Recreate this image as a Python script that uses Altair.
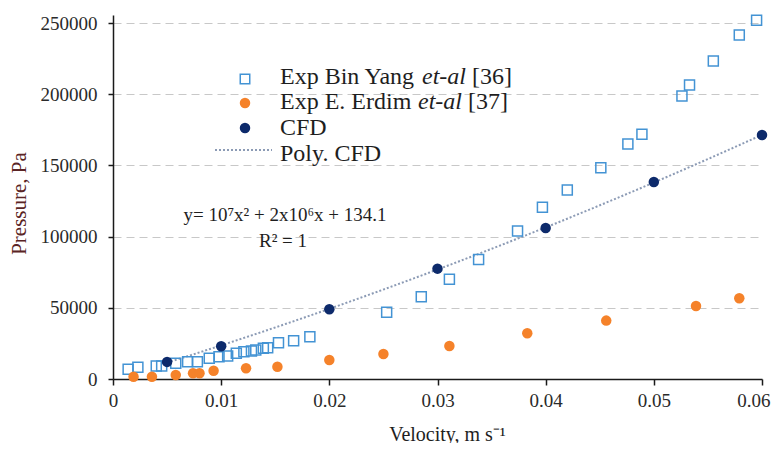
import altair as alt
import pandas as pd

# ---------------- data ----------------
yang_v = [0.0014, 0.0023, 0.0040, 0.0045, 0.0058, 0.0069, 0.0078, 0.0089, 0.0098,
          0.0106, 0.0114, 0.0121, 0.0128, 0.0132, 0.0139, 0.0143, 0.0153, 0.0167,
          0.0182, 0.0253, 0.0285, 0.0311, 0.0338, 0.0374, 0.0397, 0.0420, 0.0451,
          0.0476, 0.0489, 0.0526, 0.0533, 0.0555, 0.0579, 0.0595]
yang_p = [6800, 8200, 9100, 9100, 11000, 12200, 12200, 14500, 15700,
          16200, 18000, 19200, 19700, 20400, 21600, 22000, 25500, 26900,
          29700, 46800, 57800, 70000, 84000, 103900, 120600, 132700, 148400,
          165000, 171800, 198700, 206500, 223300, 241600, 252000]

erdim_v = [0.0019, 0.0036, 0.0058, 0.0074, 0.0080, 0.0093, 0.0123, 0.0152, 0.0200,
           0.0250, 0.0311, 0.0383, 0.0456, 0.0539, 0.0579]
erdim_p = [1600, 1600, 2800, 4000, 4000, 5800, 7500, 8600, 13300,
           17600, 23200, 32100, 41000, 51300, 56700]

cfd_v = [0.005, 0.01, 0.02, 0.03, 0.04, 0.05, 0.06]
cfd_p = [12000, 23000, 49000, 77500, 106000, 138300, 171300]

x_ticks = [0, 0.01, 0.02, 0.03, 0.04, 0.05, 0.06]
y_ticks = [0, 50000, 100000, 150000, 200000, 250000]

legend_labels = ["Exp Bin Yang", "Exp E. Erdim", "CFD", "Poly. CFD"]
legend_italic = "et-al"
legend_refs = ["[36]", "[37]"]
equation = "y= 10\u2077x\u00b2 + 2x10\u2076x + 134.1"
r2_text = "R\u00b2 = 1"
x_title = "Velocity,  m s\u207b\u00b9"
y_title = "Pressure, Pa"

# ---------------- styling ----------------
SERIF = "Liberation Serif"
W, H = 649, 364
BLUE = "#4393d4"
ORANGE = "#f5822a"
NAVY = "#0d2a6b"
TREND = "#8c9bb5"
TXT = "#1e1e1e"

yang = pd.DataFrame({"v": yang_v, "p": yang_p})
erdim = pd.DataFrame({"v": erdim_v, "p": erdim_p})
cfd = pd.DataFrame({"v": cfd_v, "p": cfd_p})
one = pd.DataFrame({"k": [0]})

xs = alt.Scale(domain=[0, 0.06], nice=False, zero=True)
ys = alt.Scale(domain=[0, 255618], nice=False)

last = "datum.value >= 0.059"
x_axis = alt.Axis(values=x_ticks, format=".2~f", title=x_title, grid=False,
                  tickSize=6, labelPadding=6, titleX=334, titleY=55,
                  labelAlign={"condition": {"test": last, "value": "right"}, "value": "center"},
                  labelOffset={"condition": {"test": last, "value": 8}, "value": 0},
                  titleAlign="center", titleBaseline="middle",
                  titleFont=SERIF, titleFontSize=20, titleFontWeight="normal",
                  titleColor=TXT)
y_axis = alt.Axis(values=y_ticks, format="d", title=y_title, grid=True,
                  gridDash=[8, 5], gridColor="#c8c8c8", gridWidth=1,
                  tickSize=5, labelPadding=11, titleX=-94, titleY=188,
                  titleAlign="center", titleBaseline="middle", titleAngle=-90,
                  titleFont=SERIF, titleFontSize=21, titleFontWeight="normal",
                  titleColor="#5a2424")

X = alt.X("v:Q", scale=xs, axis=x_axis)
Y = alt.Y("p:Q", scale=ys, axis=y_axis)

trend = alt.Chart(cfd).transform_regression(
    "v", "p", method="poly", order=2
).mark_line(strokeDash=[2, 2], color=TREND, strokeWidth=2).encode(x=X, y=Y)

sq = alt.Chart(yang).mark_point(shape="square", filled=False, size=100,
                                 strokeWidth=1.5, color=BLUE, opacity=1).encode(x=X, y=Y)

orc = alt.Chart(erdim).mark_circle(size=110, color=ORANGE, opacity=1).encode(x=X, y=Y)

nav = alt.Chart(cfd).mark_circle(size=110, color=NAVY, opacity=1).encode(x=X, y=Y)


def txt(s, x, y, size=24, style="normal", align="left"):
    return alt.Chart(one).mark_text(align=align, baseline="middle", font=SERIF,
                                    fontSize=size, fontStyle=style, color=TXT).encode(
        x=alt.value(x), y=alt.value(y), text=alt.value(s))


# legend (inside the plot)
leg = [
    alt.Chart(one).mark_point(shape="square", filled=False, size=90, strokeWidth=1.5,
                              color=BLUE, opacity=1).encode(x=alt.value(132), y=alt.value(64)),
    alt.Chart(one).mark_circle(size=110, color=ORANGE, opacity=1).encode(
        x=alt.value(132), y=alt.value(88)),
    alt.Chart(one).mark_circle(size=110, color=NAVY, opacity=1).encode(
        x=alt.value(132), y=alt.value(113)),
    alt.Chart(one).mark_rule(strokeDash=[2, 2], color=TREND, strokeWidth=2).encode(
        x=alt.value(102), x2=alt.value(159), y=alt.value(135)),
    txt(legend_labels[0], 167, 62),
    txt(legend_italic, 309, 62, style="italic"),
    txt(legend_refs[0], 359, 62),
    txt(legend_labels[1], 167, 87),
    txt(legend_italic, 305, 87, style="italic"),
    txt(legend_refs[1], 355, 87),
    txt(legend_labels[2], 167, 113),
    txt(legend_labels[3], 167, 139),
    txt(equation, 172, 200, size=19, align="center"),
    txt(r2_text, 170, 226, size=19, align="center"),
]

chart = alt.layer(trend, sq, orc, nav, *leg).properties(
    width=W, height=H,
    autosize=alt.AutoSizeParams(type="none"),
    padding={"left": 105, "top": 7, "right": 9, "bottom": 64},
    background="white",
).configure_view(stroke=None).configure_axis(
    labelFont=SERIF, labelFontSize=19, labelColor="#2a2a2a",
    domainColor="#1a1a1a", domainWidth=1.5, tickColor="#1a1a1a", tickWidth=1.5,
)

chart.save("out.html", embed_options={"renderer": "svg", "actions": False})
